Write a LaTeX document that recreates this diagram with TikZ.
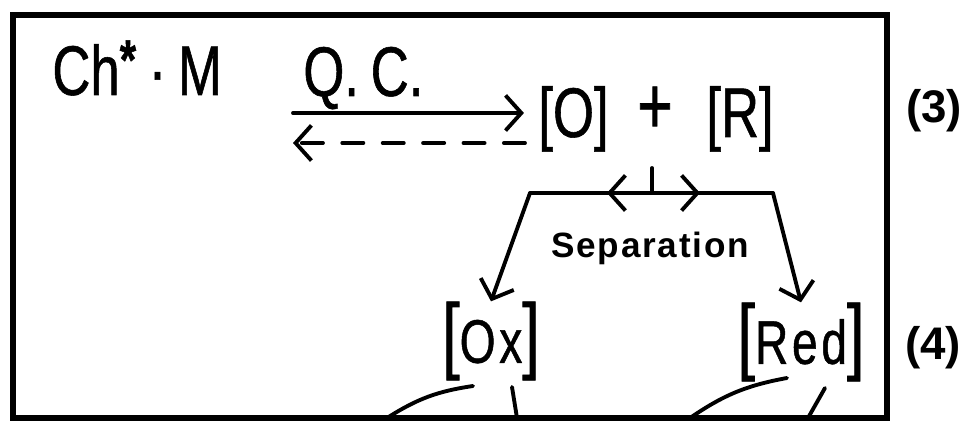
\documentclass[tikz,border=0pt]{standalone}
\usepackage{fontspec}
\setmainfont{Liberation Sans}[FakeStretch=0.75, FakeBold=0.8]
\newfontfamily\widefont{Liberation Sans}[FakeStretch=0.75, FakeBold=0.8, LetterSpace=6]
\newfontfamily\sepfont{Liberation Sans}[LetterSpace=5]
\newfontfamily\numfont{Liberation Sans}
\usetikzlibrary{arrows.meta}

\tikzset{
  chem/.style={inner sep=0pt, font=\fontsize{40}{40}\selectfont},
  prod/.style={inner sep=0pt, font=\widefont\fontsize{35}{35}\selectfont},
  eqno/.style={inner sep=0pt, font=\numfont\bfseries\fontsize{26}{26}\selectfont},
  barb/.style={-{Straight Barb[length=9pt, width=20pt, line width=2.2pt]}},
  wire/.style={line width=2.2pt, line cap=round}
}

% brackets drawn taller than the letters inside
\newcommand{\tallbr}[1]{{\fontsize{48}{48}\selectfont[}#1{\fontsize{48}{48}\selectfont]}}

\begin{document}
\begin{tikzpicture}[x=0.02cm, y=-0.02cm]
  \useasboundingbox (0,0) rectangle (965,421);

  % Frame
  \draw[line width=3.2pt] (13,15) rectangle (887,418);

  % Top row
  \node[chem, anchor=base west] (chm) at (52,95) {Ch\textsuperscript{\fontsize{32}{32}\selectfont\textbf{*}}\,·\,M};
  \node[chem, anchor=base west] (qc) at (303,96) {Q.\,C.};
  \node[chem, anchor=base west] (o) at (538,137) {[O]};
  \node[chem, font=\fontsize{46}{46}\selectfont] (plus) at (655,110) {+};
  \node[chem, anchor=base west] (r) at (706,137) {[R]};
  \node[eqno] (eq3) at (934,111) {(3)};

  % Reaction arrows
  \coordinate (fwd) at (293,113);
  \coordinate (bwd) at (525,143);
  \draw[wire, barb, shorten >=8pt] (fwd) -- (fwd -| o.west);
  \draw[wire, barb, dash pattern=on 12pt off 11pt] (bwd) -- (bwd -| fwd);

  % Separation fork
  \coordinate (tick) at (652,168);
  \coordinate (sep) at (652,193);
  \coordinate (sepl) at (530,193);
  \coordinate (sepr) at (773,193);
  \draw[wire] (tick) -- (sep);
  \draw[wire] (sepl) -- (sepr);
  \draw[wire, barb] (sep) -- (607,193);
  \draw[wire, barb] (sep) -- (700,193);
  \node[font=\sepfont\bfseries\fontsize{20}{20}\selectfont, inner sep=0pt, anchor=base] (sepname) at (650,258) {Separation};

  % Products
  \node[prod] (ox) at (491,341) {\tallbr{Ox}};
  \node[prod] (red) at (801,342) {\tallbr{Red}};
  \node[eqno] (eq4) at (933,348) {(4)};
  \draw[wire, barb] (sepl) -- (ox.north);
  \draw[wire, barb] (sepr) -- (red.north);

  % Leads running out of the frame
  \coordinate (oxa) at (387,418);
  \coordinate (oxb) at (517,418);
  \coordinate (reda) at (690,418);
  \coordinate (redb) at (808,418);
  \draw[wire] (473,386) to[bend right=12] (oxa);
  \draw[wire] (512,387) -- (oxb);
  \draw[wire] (787,378) to[bend right=12] (reda);
  \draw[wire] (825,388) -- (redb);

\end{tikzpicture}
\end{document}
